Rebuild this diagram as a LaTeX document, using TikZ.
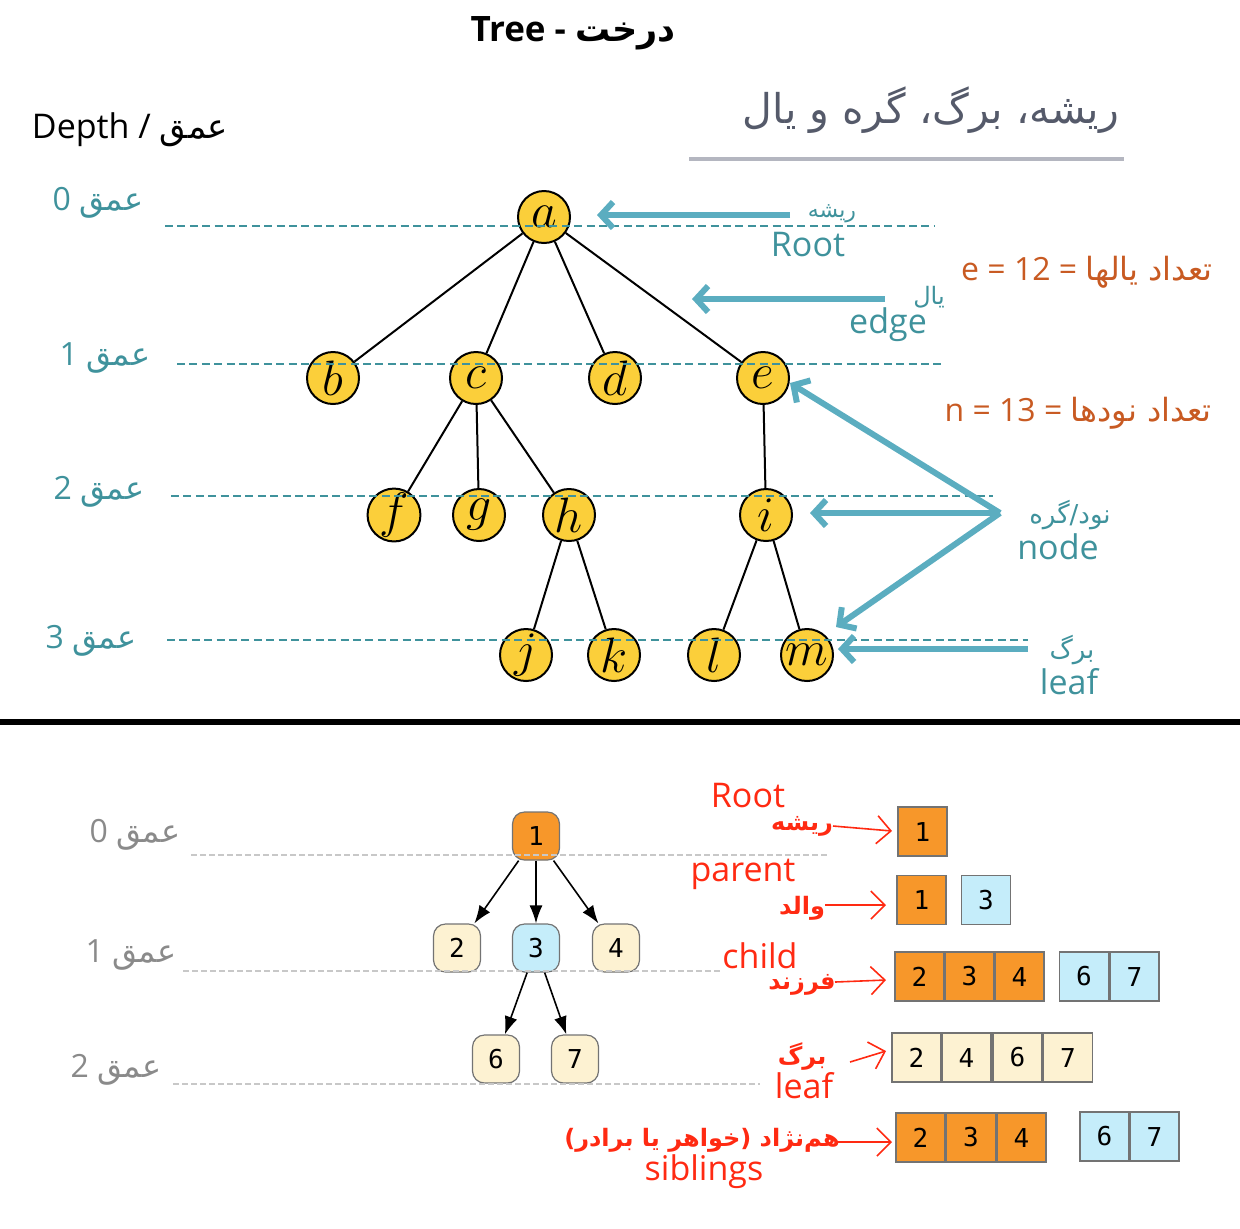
\documentclass[tikz,border=0pt]{standalone}
\usepackage{fontspec}
\setmainfont{Open Sans}
\newfontfamily\arabicfont[Script=Arabic]{DejaVu Sans}
\newfontfamily\cellfont{DejaVu Sans Mono}
\usetikzlibrary{arrows.meta}
\TeXXeTstate=1
\definecolor{teal1}{HTML}{3F929C}
\definecolor{tealarrow}{HTML}{5BADC0}
\definecolor{nodeyellow}{HTML}{FBCF3A}
\definecolor{countorange}{HTML}{C85A22}
\definecolor{headgray}{HTML}{555A6A}
\definecolor{rulegray}{HTML}{B4B6C0}
\definecolor{lblred}{HTML}{FF2A12}
\definecolor{boxorange}{HTML}{F7972A}
\definecolor{boxblue}{HTML}{C5EDFA}
\definecolor{boxcream}{HTML}{FDF2D2}
\definecolor{lblgray}{HTML}{8A8A8A}
\definecolor{dashgray}{HTML}{C8C8C8}
\newcommand{\artext}[1]{{\arabicfont\beginR #1\endR}}
\newcommand{\fsz}[1]{\fontsize{#1}{#1}\selectfont}
\begin{document}
\begin{tikzpicture}[x=0.5pt,y=-0.5pt,
  tnode/.style={circle, draw=black, line width=1pt, fill=nodeyellow, minimum size=26pt, inner sep=0pt, font=\fsz{23}},
  tedge/.style={black, line width=1pt},
  depthdash/.style={teal1, line width=0.8pt, dash pattern=on 4pt off 2.2pt},
  graydash/.style={dashgray, line width=1pt, dash pattern=on 3pt off 1.5pt},
  tealarr/.style={tealarrow, line width=3pt, -{Straight Barb[length=6pt,width=13pt]}},
  teallbl/.style={text=teal1, inner sep=0pt},
  depthlbl/.style={text=teal1, inner sep=0pt, font=\fsz{16}},
  graylbl/.style={text=lblgray, inner sep=0pt, font=\fsz{16}},
  countlbl/.style={text=countorange, inner sep=0pt, font=\fsz{16}},
  bnode/.style={rounded corners=6pt, draw=black!55, line width=0.6pt, minimum width=23.5pt, minimum height=24pt, inner sep=0pt, font=\cellfont\fsz{13}},
  barrow/.style={black, line width=0.8pt, -{Latex[length=9pt,width=6.5pt]}},
  cell/.style={draw=black!55, line width=0.8pt, minimum width=24.5pt, minimum height=24.5pt, inner sep=0pt, font=\cellfont\fsz{13}},
  redlbl/.style={text=lblred, inner sep=0pt, font=\fsz{17}},
  redar/.style={text=lblred, inner sep=0pt, font=\arabicfont\bfseries\fsz{12}},
  redarr/.style={lblred, line width=0.8pt, -{Straight Barb[length=7pt,width=14pt]}}
]
\useasboundingbox (0,0) rectangle (1240,1228);

% ---------- titles ----------
\node[inner sep=0pt, font=\bfseries\fsz{17.5}] (title) at (573,33) {Tree - \artext{درخت}};
\node[inner sep=0pt, font=\fsz{17}] (depthhead) at (130,130) {Depth / \artext{عمق}};
\node[inner sep=0pt, text=headgray, font=\fsz{20.5}] (heading) at (931,110) {\artext{ریشه، برگ، گره و یال}};
\coordinate (ulA) at (689,159);
\coordinate (ulB) at (1124,159);
\draw[rulegray, line width=2pt] (ulA) -- (ulB);

% ---------- top tree ----------
\node[tnode] (a) at (544,217) {$a$};
\node[tnode] (b) at (333,378) {$b$};
\node[tnode] (c) at (476,378) {$c$};
\node[tnode] (d) at (615,378) {$d$};
\node[tnode] (e) at (763,378) {$e$};
\node[tnode] (f) at (394,515) {$f$};
\node[tnode] (g) at (479,515) {$g$};
\node[tnode] (h) at (569,515) {$h$};
\node[tnode] (i) at (766,515) {$i$};
\node[tnode] (j) at (526,655) {$j$};
\node[tnode] (k) at (614,655) {$k$};
\node[tnode] (l) at (714,655) {$l$};
\node[tnode] (m) at (807,655) {$m$};
\draw[tedge] (a) -- (b);
\draw[tedge] (a) -- (c);
\draw[tedge] (a) -- (d);
\draw[tedge] (a) -- (e);
\draw[tedge] (c) -- (f);
\draw[tedge] (c) -- (g);
\draw[tedge] (c) -- (h);
\draw[tedge] (e) -- (i);
\draw[tedge] (h) -- (j);
\draw[tedge] (h) -- (k);
\draw[tedge] (i) -- (l);
\draw[tedge] (i) -- (m);

% depth lines (top)
\coordinate (d0a) at (165,226); \coordinate (d0b) at (935,226);
\coordinate (d1a) at (177,364); \coordinate (d1b) at (945,364);
\coordinate (d2a) at (171,496); \coordinate (d2b) at (993,496);
\coordinate (d3a) at (167,640); \coordinate (d3b) at (1028,640);
\draw[depthdash] (d0a) -- (d0b);
\draw[depthdash] (d1a) -- (d1b);
\draw[depthdash] (d2a) -- (d2b);
\draw[depthdash] (d3a) -- (d3b);

\node[depthlbl] (t0) at (98,203) {0 \artext{عمق}};
\node[depthlbl] (t1) at (105,358) {1 \artext{عمق}};
\node[depthlbl] (t2) at (99,492) {2 \artext{عمق}};
\node[depthlbl] (t3) at (91,641) {3 \artext{عمق}};

% teal arrows and labels
\coordinate (rootS) at (790,215); \coordinate (rootT) at (597,215);
\coordinate (edgeS) at (885,299); \coordinate (edgeT) at (692,299);
\coordinate (nodeO) at (1000,513);
\coordinate (nodeTe) at (790,383);
\coordinate (nodeTi) at (810,513);
\coordinate (nodeTm) at (836,627);
\coordinate (leafS) at (1028,649); \coordinate (leafT) at (838,649);
\draw[tealarr] (rootS) -- (rootT);
\draw[tealarr] (edgeS) -- (edgeT);
\draw[tealarr] (nodeO) -- (nodeTe);
\draw[tealarr] (nodeO) -- (nodeTi);
\draw[tealarr] (nodeO) -- (nodeTm);
\draw[tealarr] (leafS) -- (leafT);

\node[teallbl, font=\fsz{11}] (rootfa) at (832,214) {\artext{ریشه}};
\node[teallbl, font=\fsz{17}] (rooten) at (808,245) {Root};
\node[teallbl, font=\fsz{12}] (edgefa) at (929,297) {\artext{یال}};
\node[teallbl, font=\fsz{17}] (edgeen) at (888,325) {edge};
\node[teallbl, font=\fsz{13}] (nodefa) at (1070,515) {\artext{نود/گره}};
\node[teallbl, font=\fsz{17}] (nodeen) at (1058,547) {node};
\node[teallbl, font=\fsz{13}] (leaffa) at (1072,650) {\artext{برگ}};
\node[teallbl, font=\fsz{17}] (leafen) at (1069,682) {leaf};

\node[countlbl] (ecount) at (1087,272) {e = 12 = \artext{تعداد یالها}};
\node[countlbl] (ncount) at (1078,413) {n = 13 = \artext{تعداد نودها}};

% separator
\coordinate (sepA) at (0,722); \coordinate (sepB) at (1240,722);
\draw[black, line width=3pt] (sepA) -- (sepB);

% ---------- bottom tree ----------
\node[bnode, fill=boxorange] (n1) at (536,836) {1};
\node[bnode, fill=boxcream] (n2) at (457,948) {2};
\node[bnode, fill=boxblue] (n3) at (536,948) {3};
\node[bnode, fill=boxcream] (n4) at (616,948) {4};
\node[bnode, fill=boxcream] (n6) at (496,1059) {6};
\node[bnode, fill=boxcream] (n7) at (575,1059) {7};
\draw[barrow] (n1) -- (n2);
\draw[barrow] (n1) -- (n3);
\draw[barrow] (n1) -- (n4);
\draw[barrow] (n3) -- (n6);
\draw[barrow] (n3) -- (n7);

\coordinate (g0a) at (191,855); \coordinate (g0b) at (830,855);
\coordinate (g1a) at (183,971); \coordinate (g1b) at (720,971);
\coordinate (g2a) at (173,1084); \coordinate (g2b) at (760,1084);
\draw[graydash] (g0a) -- (g0b);
\draw[graydash] (g1a) -- (g1b);
\draw[graydash] (g2a) -- (g2b);

\node[graylbl] (b0) at (135,835) {0 \artext{عمق}};
\node[graylbl] (b1) at (131,955) {1 \artext{عمق}};
\node[graylbl] (b2) at (116,1070) {2 \artext{عمق}};

% ---------- right side cells ----------
\node[cell, fill=boxorange] (rc1) at (922.5,831.5) {1};

\node[cell, fill=boxorange] (pc1) at (921.5,900) {1};
\node[cell, fill=boxblue] (pc3) at (986,900) {3};

\node[cell, fill=boxorange] (cc2) at (919.5,976.5) {2};
\node[cell, fill=boxorange] (cc3) at (969.5,976.5) {3};
\node[cell, fill=boxorange] (cc4) at (1019.5,976.5) {4};
\node[cell, fill=boxblue] (cc6) at (1084,976.5) {6};
\node[cell, fill=boxblue] (cc7) at (1134.5,976.5) {7};

\node[cell, fill=boxcream] (lc2) at (916.5,1057.5) {2};
\node[cell, fill=boxcream] (lc4) at (966.5,1057.5) {4};
\node[cell, fill=boxcream] (lc6) at (1017.5,1057.5) {6};
\node[cell, fill=boxcream] (lc7) at (1068,1057.5) {7};

\node[cell, fill=boxorange] (sc2) at (920.5,1137.5) {2};
\node[cell, fill=boxorange] (sc3) at (971,1137.5) {3};
\node[cell, fill=boxorange] (sc4) at (1021.5,1137.5) {4};
\node[cell, fill=boxblue] (sc6) at (1104.5,1136.5) {6};
\node[cell, fill=boxblue] (sc7) at (1154.5,1136.5) {7};

% red labels
\node[redlbl] (rRoot) at (748,796) {Root};
\node[redar] (rRootfa) at (802,826) {\artext{ریشه}};
\node[redlbl] (rParent) at (743,874) {parent};
\node[redar] (rParentfa) at (802,908) {\artext{والد}};
\node[redlbl] (rChild) at (760,956) {child};
\node[redar] (rChildfa) at (802,985) {\artext{فرزند}};
\node[redar] (rLeaffa) at (802,1056) {\artext{برگ}};
\node[redlbl] (rLeaf) at (804,1086) {leaf};
\node[redar] (rSibfa) at (702,1140) {\artext{هم‌نژاد (خواهر یا برادر)}};
\node[redlbl] (rSib) at (704,1172) {siblings};

\coordinate (ra1) at (833,826); \coordinate (ra2) at (892,831);
\coordinate (pa1) at (825,905); \coordinate (pa2) at (886,905);
\coordinate (ca1) at (835,982); \coordinate (ca2) at (886,980);
\coordinate (la1) at (850,1062); \coordinate (la2) at (886,1051);
\coordinate (sa1) at (835,1142); \coordinate (sa2) at (892,1142);
\draw[redarr] (ra1) -- (ra2);
\draw[redarr] (pa1) -- (pa2);
\draw[redarr] (ca1) -- (ca2);
\draw[redarr] (la1) -- (la2);
\draw[redarr] (sa1) -- (sa2);
\end{tikzpicture}
\end{document}
